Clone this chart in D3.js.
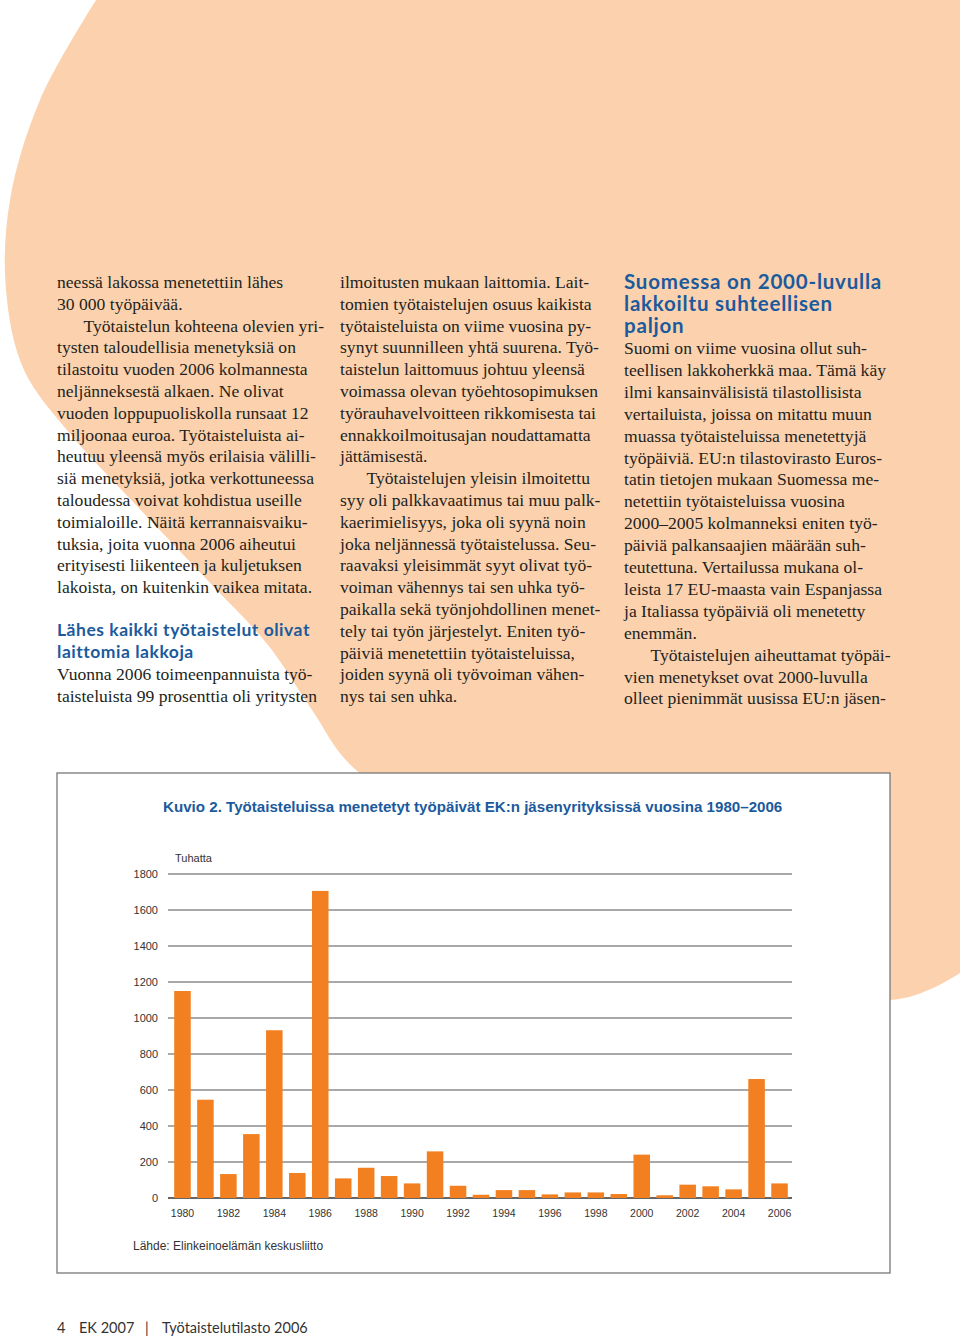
<!DOCTYPE html>
<html>
<head>
<meta charset="utf-8">
<script src="https://cdn.jsdelivr.net/npm/d3@7"></script>
<style>
  body { margin: 0; background: #fff; }
  svg { display: block; }
</style>
</head>
<body>
<div id="page"></div>
<script>
/* Chart data: lost working days (thousands) per year */
const years = [1980, 1981, 1982, 1983, 1984, 1985, 1986, 1987, 1988, 1989, 1990, 1991, 1992, 1993,
  1994, 1995, 1996, 1997, 1998, 1999, 2000, 2001, 2002, 2003, 2004, 2005, 2006];
const lostDays = [1150, 546, 133, 355, 932, 139, 1706, 109, 168, 122, 81, 259, 68, 18,
  44, 44, 20, 31, 31, 22, 241, 15, 74, 65, 48, 661, 81];
const yTicks = [0, 200, 400, 600, 800, 1000, 1200, 1400, 1600, 1800];
const xTickYears = [1980, 1982, 1984, 1986, 1988, 1990, 1992, 1994, 1996, 1998, 2000, 2002, 2004, 2006];

const chartTitle = "Kuvio 2. Työtaisteluissa menetetyt työpäivät EK:n jäsenyrityksissä vuosina 1980–2006";
const unitLabel = "Tuhatta";
const sourceLabel = "Lähde: Elinkeinoelämän keskusliitto";

/* Page text, line by line */
const colOne = [
  "neessä lakossa menetettiin lähes",
  "30 000 työpäivää.",
  "\u2003\u2002Työtaistelun kohteena olevien yri-",
  "tysten taloudellisia menetyksiä on",
  "tilastoitu vuoden 2006 kolmannesta",
  "neljänneksestä alkaen. Ne olivat",
  "vuoden loppupuoliskolla runsaat 12",
  "miljoonaa euroa. Työtaisteluista ai-",
  "heutuu yleensä myös erilaisia välilli-",
  "siä menetyksiä, jotka verkottuneessa",
  "taloudessa voivat kohdistua useille",
  "toimialoille. Näitä kerrannaisvaiku-",
  "tuksia, joita vuonna 2006 aiheutui",
  "erityisesti liikenteen ja kuljetuksen",
  "lakoista, on kuitenkin vaikea mitata."
];
const colOneHead = ["Lähes kaikki työtaistelut olivat", "laittomia lakkoja"];
const colOneTail = ["Vuonna 2006 toimeenpannuista työ-", "taisteluista 99 prosenttia oli yritysten"];
const colTwo = [
  "ilmoitusten mukaan laittomia. Lait-",
  "tomien työtaistelujen osuus kaikista",
  "työtaisteluista on viime vuosina py-",
  "synyt suunnilleen yhtä suurena. Työ-",
  "taistelun laittomuus johtuu yleensä",
  "voimassa olevan työehtosopimuksen",
  "työrauhavelvoitteen rikkomisesta tai",
  "ennakkoilmoitusajan noudattamatta",
  "jättämisestä.",
  "\u2003\u2002Työtaistelujen yleisin ilmoitettu",
  "syy oli palkkavaatimus tai muu palk-",
  "kaerimielisyys, joka oli syynä noin",
  "joka neljännessä työtaistelussa. Seu-",
  "raavaksi yleisimmät syyt olivat työ-",
  "voiman vähennys tai sen uhka työ-",
  "paikalla sekä työnjohdollinen menet-",
  "tely tai työn järjestelyt. Eniten työ-",
  "päiviä menetettiin työtaisteluissa,",
  "joiden syynä oli työvoiman vähen-",
  "nys tai sen uhka."
];
const colThreeHead = ["Suomessa on 2000-luvulla", "lakkoiltu suhteellisen", "paljon"];
const colThree = [
  "Suomi on viime vuosina ollut suh-",
  "teellisen lakkoherkkä maa. Tämä käy",
  "ilmi kansainvälisistä tilastollisista",
  "vertailuista, joissa on mitattu muun",
  "muassa työtaisteluissa menetettyjä",
  "työpäiviä. EU:n tilastovirasto Euros-",
  "tatin tietojen mukaan Suomessa me-",
  "netettiin työtaisteluissa vuosina",
  "2000–2005 kolmanneksi eniten työ-",
  "päiviä palkansaajien määrään suh-",
  "teutettuna. Vertailussa mukana ol-",
  "leista 17 EU-maasta vain Espanjassa",
  "ja Italiassa työpäiviä oli menetetty",
  "enemmän.",
  "\u2003\u2002Työtaistelujen aiheuttamat työpäi-",
  "vien menetykset ovat 2000-luvulla",
  "olleet pienimmät uusissa EU:n jäsen-"
];

const W = 960, H = 1337;
const serif = "'Liberation Serif', 'Times New Roman', serif";
const sans = "'Liberation Sans', Arial, sans-serif";
const headFont = "Lato, 'Open Sans', sans-serif";
const blue = "#1b5a9c";
const ink = "#231f20";

const svg = d3.select("#page").append("svg")
  .attr("width", W)
  .attr("height", H);

/* Peach background shape */
const edge = [[96, 0], [40, 100], [10, 200], [6, 290], [24, 370], [72, 436], [136, 505],
  [212, 585], [268, 645], [312, 710], [356, 770], [600, 905], [890, 1000], [960, 973]];
const edgePath = d3.line().curve(d3.curveCatmullRom.alpha(0.5))(edge);
svg.append("path")
  .attr("d", edgePath + "L960,0Z")
  .style("fill", "#fcd2ae");

/* Body text helper */
function writeLines(lines, x, y0, step, font, size, color, weight) {
  return svg.append("g")
    .style("font-family", font)
    .style("font-size", size + "px")
    .style("font-weight", weight || 400)
    .style("fill", color)
    .selectAll("text")
    .data(lines)
    .enter()
    .append("text")
    .attr("x", x)
    .attr("y", function (d, i) { return y0 + i * step; })
    .style("white-space", "pre")
    .text(function (d) { return d; });
}

/* spread a heading so its first line spans the given width */
function fitHeading(sel, width) {
  const first = sel.nodes()[0];
  const w = first.getComputedTextLength();
  const n = first.textContent.length;
  d3.select(first.parentNode).style("letter-spacing", ((width - w) / n).toFixed(2) + "px");
}

const lh = 21.8;
const bodySize = 17.6;
writeLines(colOne, 57, 288, lh, serif, bodySize, ink);
fitHeading(writeLines(colOneHead, 57, 636, lh, headFont, 17.5, blue, 700), 253);
writeLines(colOneTail, 57, 680, lh, serif, bodySize, ink);
writeLines(colTwo, 340, 288, lh, serif, bodySize, ink);
fitHeading(writeLines(colThreeHead, 624, 289, 22, headFont, 20.5, blue, 700), 258);
writeLines(colThree, 624, 354, 21.9, serif, bodySize, ink);

/* Footer */
const footer = svg.append("text")
  .attr("x", 57)
  .attr("y", 1333)
  .style("font-family", headFont)
  .style("font-size", "14.5px")
  .style("fill", "#333")
  .style("white-space", "pre");
footer.append("tspan").text("4");
footer.append("tspan").attr("x", 79).text("EK 2007");
footer.append("tspan").attr("x", 145).text("|");
footer.append("tspan").attr("x", 162).text("Työtaistelutilasto 2006");

/* Chart box */
svg.append("rect")
  .attr("x", 57)
  .attr("y", 773)
  .attr("width", 833)
  .attr("height", 500)
  .style("fill", "#fff")
  .style("stroke", "#777")
  .style("stroke-width", 1.3);

const plot = { left: 168, right: 792, top: 874, bottom: 1198 };

const x = d3.scaleBand()
  .domain(years)
  .range([plot.left, plot.right + 2])
  .paddingInner(0.28)
  .paddingOuter(0.27);
const y = d3.scaleLinear()
  .domain([0, 1800])
  .range([plot.bottom, plot.top]);

/* Gridlines */
svg.append("g").selectAll("line")
  .data(yTicks)
  .enter()
  .append("line")
  .attr("x1", plot.left)
  .attr("x2", plot.right)
  .attr("y1", function (d) { return y(d); })
  .attr("y2", function (d) { return y(d); })
  .style("stroke", function (d) { return d === 0 ? "#333" : "#555"; })
  .style("stroke-width", function (d) { return d === 0 ? 1.6 : 1.2; });

/* Bars */
svg.append("g").selectAll("rect")
  .data(years)
  .enter()
  .append("rect")
  .attr("x", function (d) { return x(d); })
  .attr("y", function (d, i) { return y(lostDays[i]); })
  .attr("width", x.bandwidth())
  .attr("height", function (d, i) { return y(0) - y(lostDays[i]); })
  .style("fill", "#f28021");

/* y axis labels */
const yAxis = svg.append("g")
  .attr("transform", "translate(" + (plot.left - 10) + ",0)")
  .call(d3.axisLeft(y).tickValues(yTicks).tickFormat(d3.format("d")).tickSize(0).tickPadding(0));
yAxis.select(".domain").remove();
yAxis.selectAll("text")
  .style("font-family", sans)
  .style("font-size", "11px")
  .style("fill", "#333");

/* x axis labels */
const xAxis = svg.append("g")
  .attr("transform", "translate(0," + (plot.bottom + 12) + ")")
  .call(d3.axisBottom(x).tickValues(xTickYears).tickSize(0).tickPadding(0));
xAxis.select(".domain").remove();
xAxis.selectAll("text")
  .style("font-family", sans)
  .style("font-size", "10.5px")
  .style("fill", "#333");

/* Title, unit and source */
const title = svg.append("text")
  .attr("x", 163)
  .attr("y", 812)
  .style("font-family", sans)
  .style("font-size", "14px")
  .style("font-weight", 700)
  .style("fill", blue)
  .text(chartTitle);
const tw = title.node().getComputedTextLength();
title.style("font-size", (14 * 620 / tw).toFixed(2) + "px");

svg.append("text")
  .attr("x", 175)
  .attr("y", 862)
  .style("font-family", sans)
  .style("font-size", "11px")
  .style("fill", "#333")
  .text(unitLabel);

svg.append("text")
  .attr("x", 133)
  .attr("y", 1250)
  .style("font-family", sans)
  .style("font-size", "12px")
  .style("fill", "#333")
  .text(sourceLabel);
</script>
</body>
</html>
